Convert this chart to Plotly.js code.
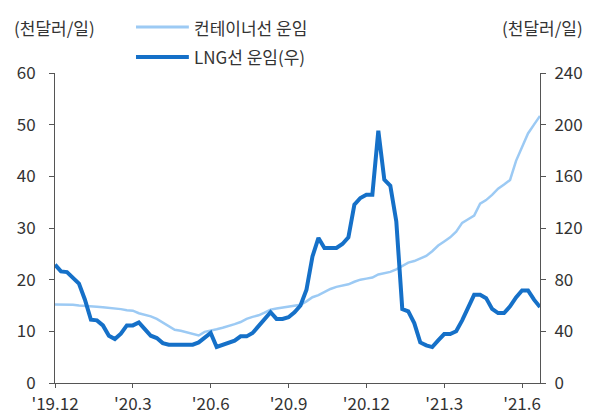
<!DOCTYPE html>
<html>
<head>
<meta charset="utf-8">
<script src="https://cdn.plot.ly/plotly-3.0.1.min.js"></script>
<style>
  html, body { margin: 0; padding: 0; background: #fff; }
  #chart { width: 598px; height: 416px; }
</style>
</head>
<body>
<div id="chart"></div>
<script>
// weekly freight, '19.12 ~ '21.6 (천달러/일)
const container = [
    15.2, 15.2, 15.2, 15.15, 15.0, 14.95, 14.85, 14.75, 14.65, 14.55,
    14.4, 14.3, 14.1, 14.0, 13.5, 13.2, 12.9, 12.4, 11.7, 10.9,
    10.3, 10.1, 9.8, 9.5, 9.2, 9.9, 10.1, 10.4, 10.7, 11.0,
    11.4, 11.8, 12.4, 12.8, 13.1, 13.6, 14.2, 14.4, 14.6, 14.8,
    15.0, 15.15, 15.8, 16.6, 17.0, 17.6, 18.2, 18.6, 18.9, 19.1,
    19.6, 20.0, 20.2, 20.4, 21.0, 21.2, 21.5, 22.0, 22.6, 23.3,
    23.6, 24.1, 24.6, 25.5, 26.6, 27.4, 28.2, 29.3, 31.0, 31.7,
    32.4, 34.7, 35.4, 36.4, 37.6, 38.4, 39.3, 43.0, 45.6, 48.3,
    50.0, 51.7
]
const lng = [
    91.6, 86.4, 85.9, 81.3, 76.9, 64.5, 49.0, 48.5, 44.6, 36.6,
    34.0, 38.2, 44.6, 44.6, 46.9, 41.7, 36.6, 34.8, 30.9, 29.7,
    29.7, 29.7, 29.7, 29.7, 31.4, 34.8, 38.7, 27.9, 29.7, 31.8,
    32.8, 36.1, 36.1, 38.7, 43.9, 49.6, 54.8, 49.6, 49.6, 50.9,
    54.8, 60.0, 72.3, 98.0, 112.3, 104.5, 104.5, 104.5, 107.6, 112.7,
    138.0, 143.2, 145.7, 145.7, 195.3, 157.4, 152.7, 125.1, 57.3, 55.5,
    46.4, 31.4, 29.1, 27.8, 33.0, 37.9, 37.9, 40.0, 48.5, 59.3,
    68.3, 68.3, 65.7, 57.3, 54.1, 54.1, 59.3, 66.3, 71.7, 71.7,
    64.5, 58.8
]
const tickWeeks = [0, 13, 26, 39, 52, 65, 78]
const tickLabels = ["'19.12", "'20.3", "'20.6", "'20.9", "'20.12", "'21.3", "'21.6"]

const names = ['컨테이너선 운임', 'LNG선 운임(우)']
const lightBlue = '#9ccaf4'
const darkBlue = '#1570c8'
const font = 'Noto Sans CJK KR, Noto Sans, sans-serif'

const weeks = lng.map((_, i) => i)

const data = [
    {
        x: weeks,
        y: container,
        name: names[0],
        type: 'scatter',
        mode: 'lines',
        line: { color: lightBlue, width: 2.5 },
        yaxis: 'y',
    },
    {
        x: weeks,
        y: lng,
        name: names[1],
        type: 'scatter',
        mode: 'lines',
        line: { color: darkBlue, width: 4 },
        yaxis: 'y2',
    },
]

const axisBase = {
    showgrid: false,
    zeroline: false,
    showline: true,
    linecolor: '#555',
    linewidth: 1,
    ticks: 'outside',
    tickcolor: '#555',
    ticklen: 5,
    tickfont: { family: font, size: 17, color: '#333' },
}

const layout = {
    width: 598,
    height: 416,
    margin: { l: 55, r: 58, t: 73, b: 33 },
    paper_bgcolor: '#fff',
    plot_bgcolor: '#fff',
    showlegend: false,
    font: { family: font, color: '#333' },
    xaxis: {
        ...axisBase,
        range: [0, 81],
        tickvals: tickWeeks,
        ticktext: tickLabels,
        ticklen: 4,
        ticklabelstandoff: 2,
    },
    yaxis: {
        ...axisBase,
        range: [0, 60],
        dtick: 10,
        ticklabelstandoff: 10,
    },
    yaxis2: {
        ...axisBase,
        overlaying: 'y',
        side: 'right',
        range: [0, 240],
        dtick: 40,
        ticklabelstandoff: 5,
    },
    shapes: [
        // legend samples
        { type: 'line', xref: 'paper', yref: 'paper', x0: 0.167, x1: 0.276, y0: 1.148, y1: 1.148,
          line: { color: lightBlue, width: 3 } },
        { type: 'line', xref: 'paper', yref: 'paper', x0: 0.167, x1: 0.276, y0: 1.052, y1: 1.052,
          line: { color: darkBlue, width: 4 } },
    ],
    annotations: [
        { text: '(천달러/일)', xref: 'paper', yref: 'paper', x: -0.088, y: 1.148,
          xanchor: 'left', yanchor: 'middle', showarrow: false, font: { family: font, size: 17, color: '#333' } },
        { text: '(천달러/일)', xref: 'paper', yref: 'paper', x: 1.093, y: 1.148,
          xanchor: 'right', yanchor: 'middle', showarrow: false, font: { family: font, size: 17, color: '#333' } },
        { text: names[0], xref: 'paper', yref: 'paper', x: 0.282, y: 1.148,
          xanchor: 'left', yanchor: 'middle', showarrow: false, font: { family: font, size: 17, color: '#333' } },
        { text: names[1], xref: 'paper', yref: 'paper', x: 0.282, y: 1.052,
          xanchor: 'left', yanchor: 'middle', showarrow: false, font: { family: font, size: 17, color: '#333' } },
    ],
}

Plotly.newPlot('chart', data, layout, { displayModeBar: false, staticPlot: true })
</script>
</body>
</html>
